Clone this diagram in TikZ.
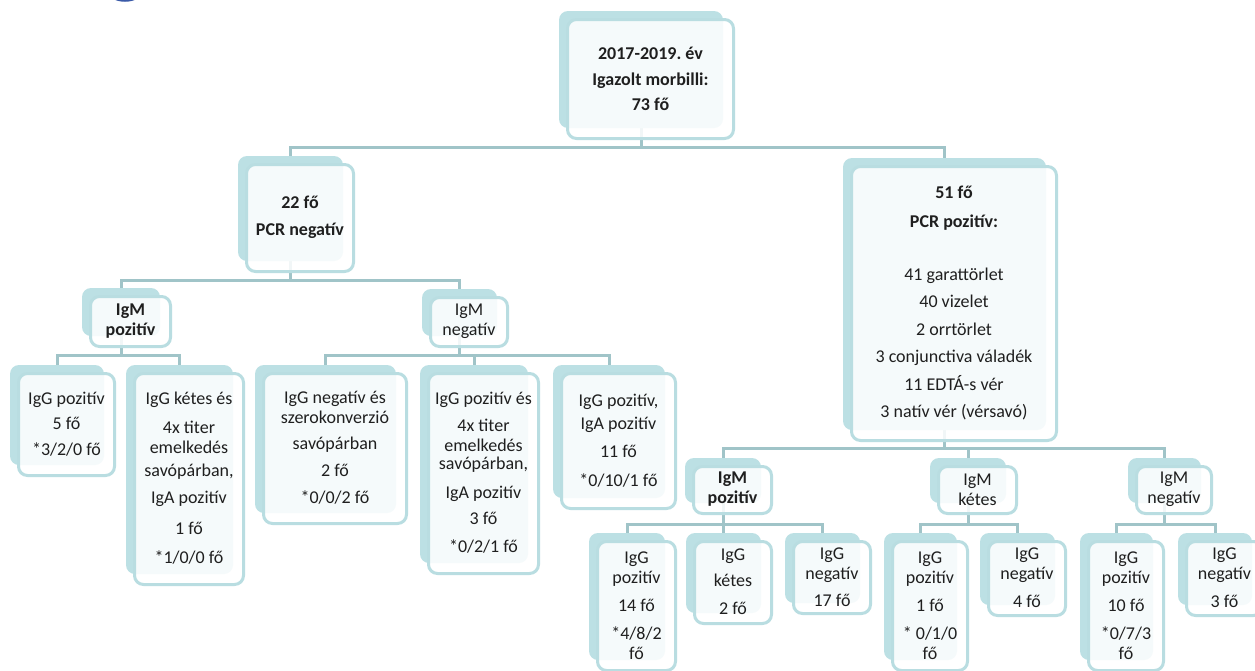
\documentclass[tikz,border=0pt]{standalone}
\usepackage{fontspec}
\setmainfont{Carlito}
\frenchspacing
\usetikzlibrary{fit}
\definecolor{backc}{HTML}{BCE0E4}
\definecolor{edgec}{HTML}{B9DDE1}
\definecolor{connc}{HTML}{A0C4C8}
\definecolor{txt}{HTML}{1F1F1F}
\definecolor{logoc}{HTML}{3A5AA8}
\pgfdeclarelayer{bg}
\pgfsetlayers{bg,main}
\tikzset{
  backbox/.style={fill=backc, draw=none, rounded corners=9pt, inner sep=0pt, outer sep=0pt},
  frontbox/.style={draw=edgec, line width=3pt, fill=white, fill opacity=0.86,
    rounded corners=9pt, inner sep=0pt, outer sep=0pt},
  boxtext/.style={inner sep=0pt, align=center, text=txt, font=\fontsize{18}{20}\selectfont},
  hb/.style={font=\bfseries\fontsize{18}{20}\selectfont},
  conn/.style={draw=connc, line width=3pt, line join=miter}
}
\newcommand\dbox[7][]{%
  \node[backbox, fit={({#3-7},{#4-7}) ({#5-12},{#6-12})}] (#2) {};
  \node[frontbox, fit={({#3+1.5},{#4+1.5}) ({#5-1.5},{#6-1.5})}] (#2F) {};
  \node[boxtext, #1] (#2T) at ([yshift=0.5pt]#2F.center) {#7};
}
\begin{document}
\begin{tikzpicture}[x=1pt,y=-1pt]
\useasboundingbox (0,0) rectangle (1255,670);
\clip (0,0) rectangle (1255,670);
\draw[logoc, line width=1.5pt] (125,-8) ellipse [x radius=16, y radius=9];

\dbox[hb]{root}{566}{18}{735}{140}{2017-2019. év\\[6pt]Igazolt morbilli:\\[5pt]73 fő}
\dbox[hb]{n22}{245}{163}{355}{273}{22 fő\\[7pt]PCR negatív}
\dbox{n51}{850}{165}{1058}{442}{\textbf{51 fő}\\[9pt]\textbf{PCR pozitív:}\\[33pt]41 garattörlet\\[7pt]40 vizelet\\[8pt]2 orrtörlet\\[7pt]3 conjunctiva váladék\\[8pt]11 EDTÁ-s vér\\[7pt]3 natív vér (vérsavó)}
\dbox[hb]{igmpL}{89}{295}{172}{348}{IgM\\pozitív}
\dbox{igmnL}{429}{296}{509}{348}{IgM\\negatív}
\dbox{c1}{17}{372}{116}{477}{IgG pozitív\\[5pt]5 fő\\[6pt]*3/2/0 fő}
\dbox{c2}{133}{372}{245}{586}{IgG kétes és\\[9pt]4x titer\\emelkedés\\[3pt]savópárban,\\[7pt]IgA pozitív\\[11pt]1 fő\\[9pt]*1/0/0 fő}
\dbox{c3}{262}{372}{408}{525}{IgG negatív és\\szerokonverzió\\[6pt]savópárban\\[7pt]2 fő\\[7pt]*0/0/2 fő}
\dbox{c4}{427}{372}{540}{575}{IgG pozitív és\\[7pt]4x titer\\emelkedés\\[-2pt]savópárban,\\[9pt]IgA pozitív\\[6pt]3 fő\\[8pt]*0/2/1 fő}
\dbox{c5}{560}{372}{677}{510}{IgG pozitív,\\[3pt]IgA pozitív\\[8pt]11 fő\\[9pt]*0/10/1 fő}
\dbox[hb]{igmpR}{692}{465}{773}{515}{IgM\\pozitív}
\dbox{igmkR}{937}{465}{1018}{515}{IgM\\kétes}
\dbox{igmnR}{1135}{465}{1213}{515}{IgM\\negatív}
\dbox{d1}{596}{540}{677}{672}{IgG\\pozitív\\[8pt]14 fő\\[8pt]*4/8/2\\fő}
\dbox{d2}{693}{540}{773}{625}{IgG\\[6pt]kétes\\[8pt]2 fő}
\dbox{d3}{792}{540}{872}{615}{IgG\\negatív\\[7pt]17 fő}
\dbox{d4}{891}{540}{969}{672}{IgG\\pozitív\\[8pt]1 fő\\[8pt]* 0/1/0\\fő}
\dbox{d5}{987}{540}{1067}{617}{IgG\\negatív\\[8pt]4 fő}
\dbox{d6}{1087}{540}{1165}{672}{IgG\\pozitív\\[8pt]10 fő\\[8pt]*0/7/3\\fő}
\dbox{d7}{1185}{540}{1264}{617}{IgG\\negatív\\[8pt]3 fő}

\begin{pgfonlayer}{bg}
\fill[white] (0,0) rectangle (1255,670);
\coordinate (bus0) at (0,147);
\coordinate (bus1) at (0,280);
\coordinate (bus2) at (0,355);
\coordinate (bus3) at (0,448);
\coordinate (bus4) at (0,524);
\draw[conn] (root.south) -- (root.south |- bus0) -| (n22.north);
\draw[conn] (root.south |- bus0) -| (n51.north);
\draw[conn] (n22.south) -- (n22.south |- bus1) -| (igmpL.north);
\draw[conn] (n22.south |- bus1) -| (igmnL.north);
\draw[conn] (igmpL.south) -- (igmpL.south |- bus2) -| (c1.north);
\draw[conn] (igmpL.south |- bus2) -| (c2.north);
\draw[conn] (igmnL.south) -- (igmnL.south |- bus2) -| (c3.north);
\draw[conn] (igmnL.south |- bus2) -| (c4.north);
\draw[conn] (igmnL.south |- bus2) -| (c5.north);
\draw[conn] (n51.south) -- (n51.south |- bus3) -| (igmpR.north);
\draw[conn] (n51.south |- bus3) -| (igmkR.north);
\draw[conn] (n51.south |- bus3) -| (igmnR.north);
\draw[conn] (igmpR.south) -- (igmpR.south |- bus4) -| (d1.north);
\draw[conn] (igmpR.south |- bus4) -| (d2.north);
\draw[conn] (igmpR.south |- bus4) -| (d3.north);
\draw[conn] (igmkR.south) -- (igmkR.south |- bus4) -| (d4.north);
\draw[conn] (igmkR.south |- bus4) -| (d5.north);
\draw[conn] (igmnR.south) -- (igmnR.south |- bus4) -| (d6.north);
\draw[conn] (igmnR.south |- bus4) -| (d7.north);
\end{pgfonlayer}
\end{tikzpicture}
\end{document}
